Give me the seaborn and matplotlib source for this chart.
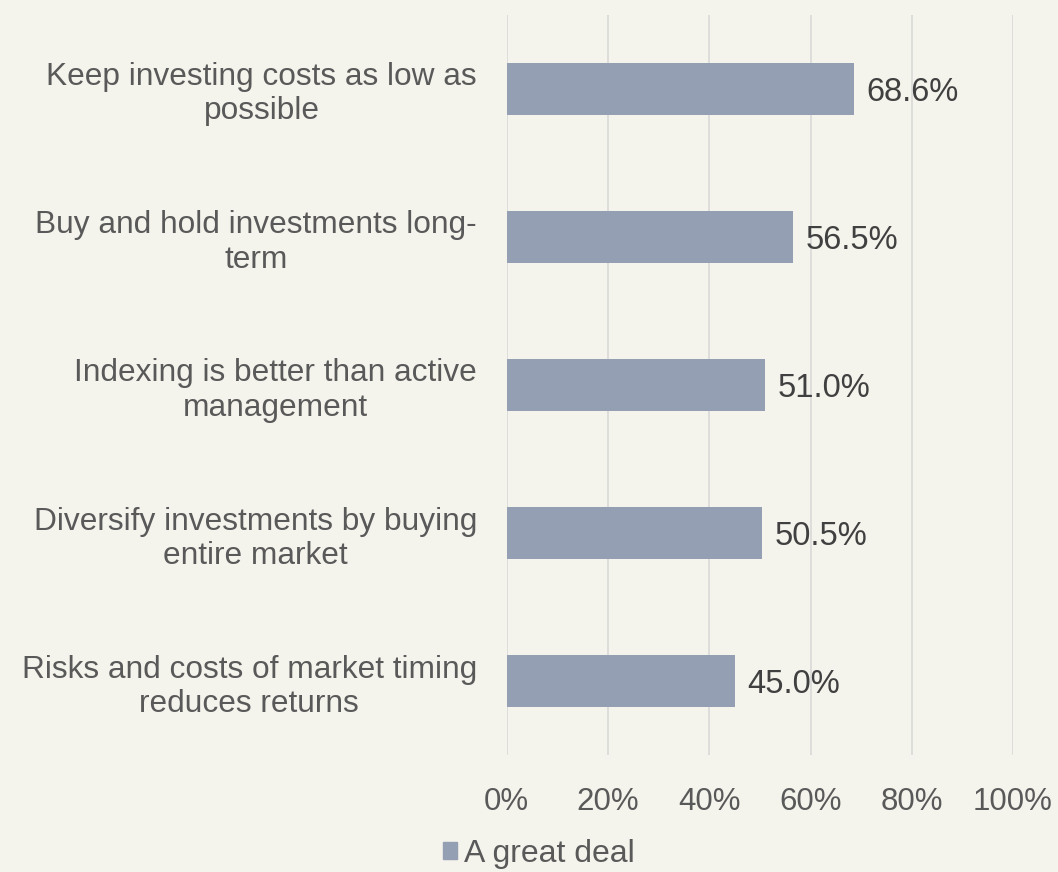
import pandas as pd
import seaborn as sns
import matplotlib.pyplot as plt
from matplotlib.patches import Patch
from matplotlib.ticker import PercentFormatter

categories = [
    "Keep investing costs as low as\npossible",
    "Buy and hold investments long-\nterm",
    "Indexing is better than active\nmanagement",
    "Diversify investments by buying\nentire market",
    "Risks and costs of market timing\nreduces returns",
]
great_deal = [68.6, 56.5, 51.0, 50.5, 45.0]
ticks = [0, 20, 40, 60, 80, 100]

df = pd.DataFrame({"category": categories, "value": great_deal})

bg = "#F4F3EC"
bar_color = "#959FB3"

sns.set_theme(style="white")
plt.rcParams["font.family"] = ["Liberation Sans", "DejaVu Sans"]

fig = plt.figure(figsize=(10.58, 8.72), dpi=100, facecolor=bg)
ax = fig.add_axes([0.479, 0.134, 0.4785, 0.849])
ax.set_facecolor(bg)

sns.barplot(data=df, x="value", y="category", color=bar_color, width=0.35,
            saturation=1, linewidth=0, ax=ax, zorder=3)

ax.set_xlim(0, 100)
ax.set_ylim(4.5, -0.5)
ax.set_xticks(ticks)
ax.xaxis.set_major_formatter(PercentFormatter(decimals=0))
ax.grid(axis="x", color="#D9D9D9", linewidth=1.2, zorder=0)
for s in ax.spines.values():
    s.set_visible(False)
ax.tick_params(axis="x", length=0, pad=23, labelsize=22.5, labelcolor="#595959")
ax.tick_params(axis="y", length=0, pad=21.5, labelsize=22.8, labelcolor="#595959")
for lbl in ax.get_yticklabels():
    lbl.set_horizontalalignment("right")
    lbl.set_multialignment("center")
    lbl.set_linespacing(1.18)
ax.set_xlabel("")
ax.set_ylabel("")

vals = ax.bar_label(ax.containers[0], labels=[f"{v:.1f}%" for v in great_deal],
                    padding=9, fontsize=23.5, color="#404040")
for t in vals:
    t.set_va("center_baseline")

fig.legend(handles=[Patch(color=bar_color, label="A great deal")],
           loc="center", bbox_to_anchor=(0.509, 0.021), frameon=False,
           fontsize=23, labelcolor="#595959", handlelength=0.45,
           handleheight=0.45, handletextpad=0.2)

fig.savefig("out.png", dpi=100, facecolor=bg)
